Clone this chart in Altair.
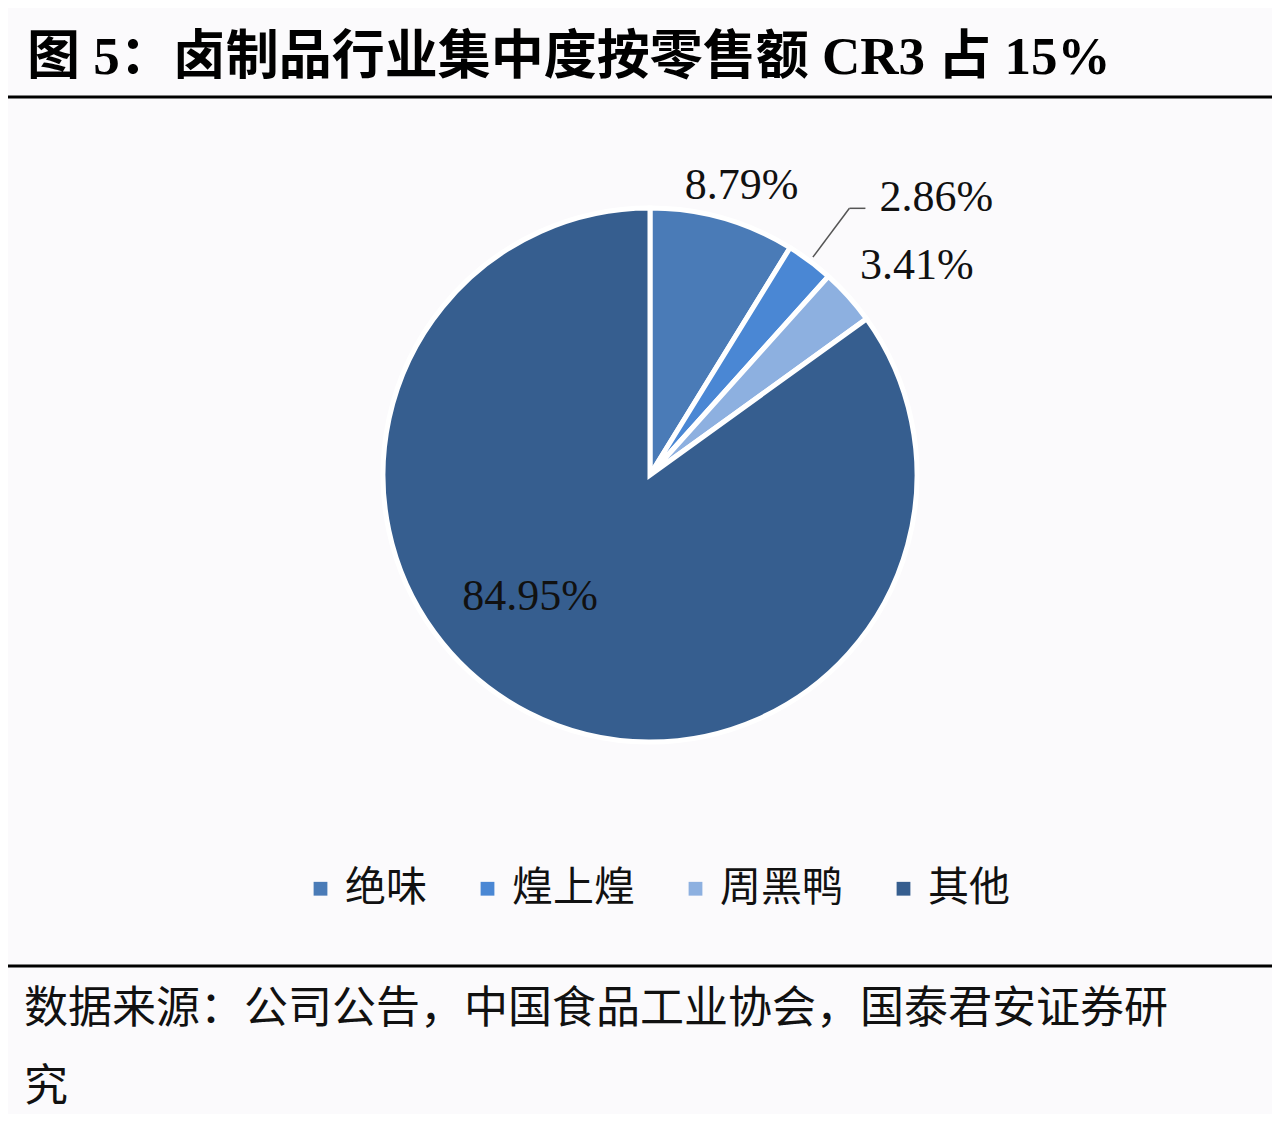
import altair as alt
import pandas as pd

categories = ["绝味", "煌上煌", "周黑鸭", "其他"]
shares = [8.79, 2.86, 3.41, 84.95]
labels = ["8.79%", "2.86%", "3.41%", "84.95%"]
colors = ["#4a7bb7", "#4a87d4", "#8db0e0", "#365e8f"]
title_text = ["图 5：卤制品行业集中度按零售额 CR3 占 15%"]
source_line1 = ["数据来源：公司公告，中国食品工业协会，国泰君安证券研"]
source_line2 = ["究"]

df = pd.DataFrame({"cat": categories, "share": shares, "label": labels, "order": list(range(len(categories)))})

CX, CY, R = 642, 467, 267
NUM_FONT = "Liberation Serif"
CJK = "Noto Sans CJK SC"

base = alt.Chart(df).encode(
    theta=alt.Theta("share:Q", stack=True),
    order=alt.Order("order:Q"),
    x=alt.value(CX),
    y=alt.value(CY),
)

pie = base.mark_arc(radius=R, stroke="white", strokeWidth=5).encode(
    color=alt.Color(
        "cat:N",
        sort=categories,
        scale=alt.Scale(domain=categories, range=colors),
        legend=alt.Legend(
            orient="none", legendX=292, legendY=860, direction="horizontal",
            title=None, symbolType="square", symbolSize=190, symbolStrokeWidth=0,
            labelFontSize=41, labelFont=CJK, labelColor="#111111",
            columnPadding=40, labelOffset=4,
        ),
    )
)

def label_layer(cat, radius, dx, dy):
    return base.transform_calculate(
        t=f"datum.cat == '{cat}' ? datum.label : ''"
    ).mark_text(
        radius=radius, dx=dx, dy=dy, font=NUM_FONT, fontSize=44,
        color="#111111", align="center", baseline="middle",
    ).encode(text="t:N")

lab1 = label_layer("绝味", 303, 9, 3)
lab3 = label_layer("周黑鸭", 337, 16, 16)
lab4 = label_layer("其他", 171, -42, -30)

lead = alt.Chart(df).transform_window(
    cum="sum(share)", sort=[alt.SortField("order")], frame=[None, 0]
).transform_joinaggregate(total="sum(share)").transform_calculate(
    mid="(datum.cum - datum.share/2) / datum.total * 2 * PI"
).transform_calculate(
    ax=f"{CX} + 272*sin(datum.mid)", ay=f"{CY} - 272*cos(datum.mid)",
    bx=f"{CX} + 333*sin(datum.mid)", by=f"{CY} - 333*cos(datum.mid)",
).transform_calculate(
    cx2="datum.bx + 16"
).transform_filter(alt.datum.cat == "煌上煌")

seg1 = lead.mark_rule(color="#555555", strokeWidth=1.5).encode(
    x=alt.X("ax:Q", scale=None), y=alt.Y("ay:Q", scale=None),
    x2="bx:Q", y2="by:Q",
)
seg2 = lead.mark_rule(color="#555555", strokeWidth=1.5).encode(
    x=alt.X("bx:Q", scale=None), y=alt.Y("by:Q", scale=None),
    x2="cx2:Q", y2="by:Q",
)
lab2 = lead.mark_text(
    font=NUM_FONT, fontSize=44, color="#111111", align="left", baseline="middle", dx=30, dy=-10
).encode(x=alt.X("bx:Q", scale=None), y=alt.Y("by:Q", scale=None), text="label:N")

title = alt.Chart(pd.DataFrame({"t": title_text})).mark_text(
    font=f"{NUM_FONT}, {CJK}", fontSize=53, fontWeight="bold", color="#000000",
    align="left", baseline="middle",
).encode(x=alt.value(19), y=alt.value(50), text="t:N")

source1 = alt.Chart(pd.DataFrame({"t": source_line1})).mark_text(
    font=CJK, fontSize=44, color="#111111", align="left", baseline="middle",
).encode(x=alt.value(16), y=alt.value(1002), text="t:N")
source2 = alt.Chart(pd.DataFrame({"t": source_line2})).mark_text(
    font=CJK, fontSize=44, color="#111111", align="left", baseline="middle",
).encode(x=alt.value(16), y=alt.value(1080), text="t:N")

top_rule = alt.Chart(pd.DataFrame({"a": [0]})).mark_rule(color="#000000", strokeWidth=3).encode(
    x=alt.value(-8), x2=alt.value(1272), y=alt.value(89)
)
bottom_rule = alt.Chart(pd.DataFrame({"a": [0]})).mark_rule(color="#000000", strokeWidth=3).encode(
    x=alt.value(-8), x2=alt.value(1272), y=alt.value(958)
)

chart = alt.layer(
    pie, lab1, lab3, lab4, seg1, seg2, lab2, title, source1, source2, top_rule, bottom_rule
).properties(
    width=1264, height=1106, autosize=alt.AutoSizeParams(type="none"), padding=0,
    background="#fbfafc",
).configure_view(stroke=None)

chart.save("out.html", embed_options={"renderer": "svg", "actions": False})
